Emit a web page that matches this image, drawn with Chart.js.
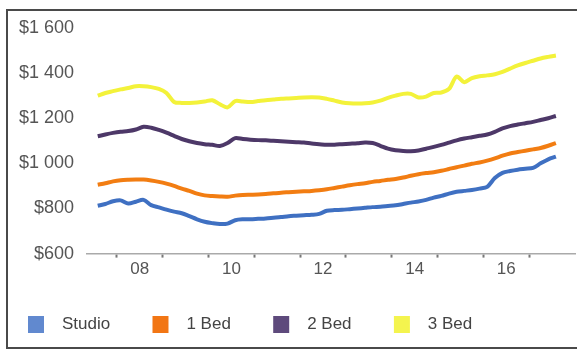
<html>
<head>
  <script src="https://cdn.jsdelivr.net/npm/chart.js@4/dist/chart.umd.min.js"></script>
  <style>
    body { margin: 0; background: #fff; overflow: hidden; }
    #frame {
      position: absolute; left: 6px; top: 9px; width: 600px; height: 336px;
      border: 2px solid #4a4a4a; border-right: none;
    }
    #rents { position: absolute; left: 0; top: 0; }
  </style>
</head>

<script>
  // Two-monthly readings, Aug 2007 .. Aug 2017
  const months = [
    '2007-08', '2007-10', '2007-12', '2008-02', '2008-04', '2008-06', '2008-08', '2008-10', '2008-12',
    '2009-02', '2009-04', '2009-06', '2009-08', '2009-10', '2009-12', '2010-02', '2010-04', '2010-06',
    '2010-08', '2010-10', '2010-12', '2011-02', '2011-04', '2011-06', '2011-08', '2011-10', '2011-12',
    '2012-02', '2012-04', '2012-06', '2012-08', '2012-10', '2012-12', '2013-02', '2013-04', '2013-06',
    '2013-08', '2013-10', '2013-12', '2014-02', '2014-04', '2014-06', '2014-08', '2014-10', '2014-12',
    '2015-02', '2015-04', '2015-06', '2015-08', '2015-10', '2015-12', '2016-02', '2016-04', '2016-06',
    '2016-08', '2016-10', '2016-12', '2017-02', '2017-04', '2017-06', '2017-08'
  ];

  const studio = [
    812, 820, 832, 836, 822, 830, 838, 815, 805,
    795, 786, 779, 766, 752, 741, 735, 731, 733,
    748, 752, 752, 754, 756, 759, 762, 766, 768,
    770, 772, 776, 790, 793, 794, 797, 800, 803,
    806, 808, 811, 814, 820, 826, 831, 838, 848,
    856, 866, 874, 878, 882, 888, 896, 935, 958,
    966, 972, 976, 980, 1000, 1018, 1030
  ];
  const oneBed = [
    905, 912, 920, 925, 927, 928, 928, 924, 918,
    910, 900, 888, 878, 866, 858, 855, 853, 852,
    857, 860, 861, 862, 864, 867, 870, 872, 874,
    876, 878, 881, 885, 891, 897, 903, 908, 912,
    918, 922, 927, 931, 937, 945, 952, 957, 961,
    967, 975, 983, 990, 998, 1004, 1012, 1022, 1034,
    1044, 1050, 1056, 1062, 1068, 1078, 1090
  ];
  const twoBed = [
    1120, 1128, 1135, 1140, 1143, 1150, 1162, 1158, 1148,
    1136, 1122, 1108, 1098, 1090, 1085, 1082, 1077, 1090,
    1112, 1108, 1105, 1103, 1102, 1100, 1098, 1096, 1094,
    1092, 1088, 1085, 1082, 1083, 1085, 1087, 1089, 1092,
    1090, 1078, 1065, 1058, 1055, 1054, 1057, 1065, 1073,
    1082, 1092, 1102, 1110, 1116, 1122, 1128, 1140, 1155,
    1165, 1172, 1178, 1184, 1192, 1200, 1210
  ];
  const threeBed = [
    1300, 1312, 1320, 1328, 1334, 1342, 1342, 1338, 1330,
    1312, 1272, 1268, 1268, 1270, 1274, 1280, 1262, 1248,
    1276, 1274, 1272, 1276, 1280, 1283, 1286, 1288, 1290,
    1292, 1293, 1292, 1286, 1278, 1270, 1266, 1265, 1266,
    1270, 1278, 1290, 1300, 1308, 1308, 1292, 1296, 1312,
    1314, 1330, 1385, 1360, 1378, 1386, 1390, 1395, 1405,
    1420, 1434, 1445, 1455, 1465, 1472, 1478
  ];

  const seriesNames = ['Studio', '1 Bed', '2 Bed', '3 Bed'];
  const lineColors = ['#3f70c2', '#f27d12', '#4d3868', '#f3f23a'];
  const boxColors = ['#6189cf', '#f27614', '#5e4a7c', '#f4f44e'];
  const yearLabels = ['08', '10', '12', '14', '16'];

  // month string -> decimal year
  function toYear(m) {
    const [y, mo] = m.split('-').map(Number);
    return y + (mo - 1) / 12;
  }

  function points(values) {
    return values.map((v, i) => ({ x: toYear(months[i]), y: v }));
  }

  function money(v) {
    if (v >= 1000) return '$' + Math.floor(v / 1000) + ' ' + String(v % 1000).padStart(3, '0');
    return '$' + v;
  }

  window.onload = () => {
    const ctx = document.getElementById('rents').getContext('2d');
    const all = [studio, oneBed, twoBed, threeBed];

    new Chart(ctx, {
      type: 'line',
      data: {
        datasets: all.map((vals, i) => ({
          label: seriesNames[i],
          data: points(vals),
          borderColor: lineColors[i],
          backgroundColor: boxColors[i],
          borderWidth: 4,
          pointRadius: 0,
          tension: 0.3,
          fill: false
        }))
      },
      options: {
        responsive: false,
        animation: false,
        layout: { padding: { left: 14, right: 2, top: 28, bottom: 8 } },
        scales: {
          x: {
            type: 'linear',
            min: 2007.35,
            max: 2018.0,
            afterBuildTicks: (axis) => {
              const t = [];
              for (let y = 2008; y <= 2017; y++) t.push({ value: y });
              for (let y = 2008; y <= 2016; y += 2) t.push({ value: y + 0.5 });
              t.sort((a, b) => a.value - b.value);
              axis.ticks = t;
            },
            afterFit: (axis) => { axis.height += 20; },
            ticks: {
              autoSkip: false,
              maxRotation: 0,
              padding: 2,
              color: '#555',
              font: { family: 'Liberation Sans', size: 17 },
              callback: (v) => {
                if (Number.isInteger(v)) return '';
                return yearLabels[Math.round((v - 2008.5) / 2)] || '';
              }
            },
            grid: {
              drawOnChartArea: false,
              tickLength: 4,
              tickWidth: 2,
              tickColor: (c) => (c.tick && Number.isInteger(c.tick.value)) ? '#777' : 'rgba(0,0,0,0)'
            },
            border: { color: '#aaa', width: 1.5 }
          },
          y: {
            min: 600,
            max: 1600,
            ticks: {
              stepSize: 200,
              padding: 5,
              color: '#555',
              font: { family: 'Liberation Sans', size: 18 },
              callback: (v) => money(v)
            },
            grid: { display: false },
            border: { display: false }
          }
        },
        plugins: {
          legend: {
            position: 'bottom',
            align: 'start',
            labels: {
              boxWidth: 16,
              boxHeight: 17,
              padding: 14,
              color: '#444',
              font: { family: 'Liberation Sans', size: 17 },
              generateLabels: (chart) => {
                const base = Chart.defaults.plugins.legend.labels.generateLabels(chart);
                return base.map((l, i) => ({
                  ...l,
                  text: '  ' + l.text + '      ',
                  fillStyle: boxColors[i],
                  strokeStyle: boxColors[i],
                  lineWidth: 0
                }));
              }
            }
          },
          tooltip: { enabled: false }
        }
      }
    });
  };
</script>

<body>
  <div id="frame"></div>
  <canvas id="rents" width="577" height="351"></canvas>
</body>

</html>
